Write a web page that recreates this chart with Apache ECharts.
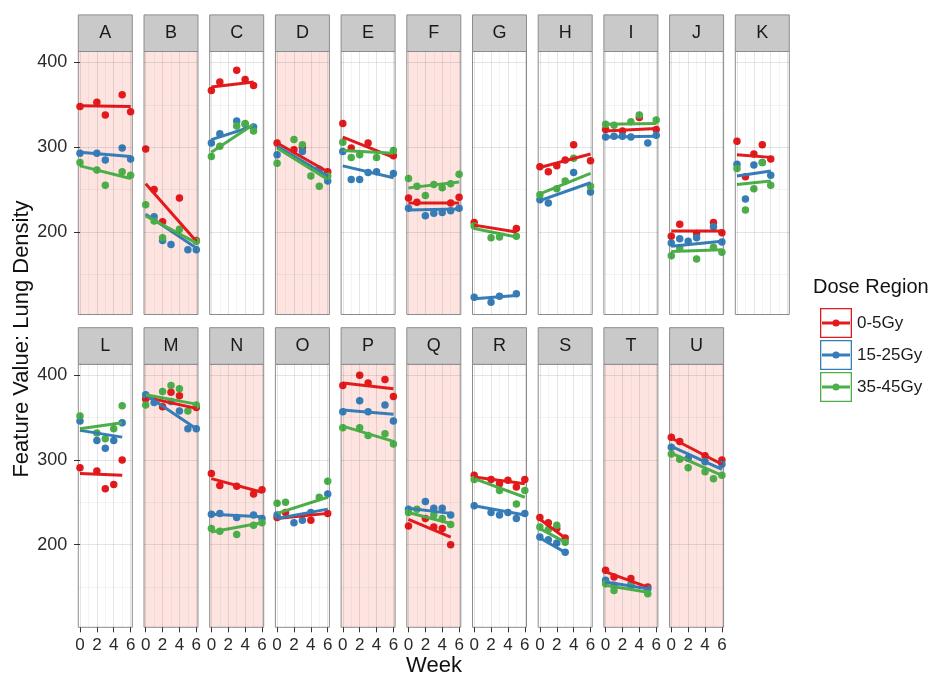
<!DOCTYPE html>
<html>
<head>
<meta charset="utf-8">
<script src="https://cdn.jsdelivr.net/npm/echarts@6/dist/echarts.min.js"></script>
<style>html,body{margin:0;padding:0;background:#fff}#c{width:932px;height:682px}</style>
</head>
<body>
<div id="c"></div>
<script>
// ---------- data ----------
const panelNames = ['A','B','C','D','E','F','G','H','I','J','K','L','M','N','O','P','Q','R','S','T','U'];
const pinkPanels = ['A','B','D','F','M','N','P','Q','T','U'];
const seriesNames = ['0-5Gy','15-25Gy','35-45Gy'];
const seriesColors = ['#E41A1C','#377EB8','#4DAF4A'];
const xTicks = [0,2,4,6];
const yTicks = [200,300,400];
const xGrid = [0,1,2,3,4,5,6];
const yGridMajor = [200,300,400];
const yGridMinor = [150,250,350];

// points [week, value] per panel (A..U)
const pts05 = [
  [[0,348],[2,353],[3,338],[5,362],[6,342]],
  [[0,298],[1,250],[2,212],[4,240],[6,190]],
  [[0,367],[1,377],[3,391],[4,380],[5,373]],
  [[0,305],[2,297],[3,300],[6,271]],
  [[0,328],[1,299],[3,305],[6,290]],
  [[0,240],[1,235],[5,234],[6,241]],
  [[0,211],[5,204]],
  [[0,277],[1,271],[2,278],[3,285],[4,303],[6,284]],
  [[0,321],[2,319],[4,335],[6,321]],
  [[0,195],[1,209],[3,198],[5,211],[6,199]],
  [[0,307],[1,265],[2,292],[3,303],[4,286]],
  [[0,291],[2,287],[3,266],[4,271],[5,300]],
  [[0,372],[2,363],[3,380],[4,376],[6,362]],
  [[0,284],[1,270],[3,269],[5,260],[6,265]],
  [[0,232],[1,238],[4,229],[6,237]],
  [[0,388],[2,400],[3,391],[5,395],[6,375]],
  [[0,222],[2,231],[3,221],[4,219],[5,200]],
  [[0,282],[2,277],[3,272],[4,276],[5,268],[6,277]],
  [[0,232],[1,226],[2,219],[3,208]],
  [[0,170],[1,162],[3,160],[5,150]],
  [[0,327],[1,322],[4,305],[6,300]]
];
const pts1525 = [
  [[0,293],[2,293],[3,285],[5,299],[6,286]],
  [[1,218],[2,190],[3,185],[5,179],[6,179]],
  [[0,305],[1,316],[3,331],[4,327],[5,324]],
  [[0,291],[3,295],[5,274],[6,260]],
  [[0,295],[1,262],[2,262],[3,270],[4,271],[6,269]],
  [[0,228],[2,219],[3,222],[4,223],[5,225],[6,228]],
  [[0,123],[2,117],[3,124],[5,127]],
  [[0,238],[1,234],[4,270],[6,247]],
  [[0,312],[1,313],[2,313],[3,312],[5,305],[6,314]],
  [[0,187],[1,192],[2,189],[3,193],[5,206],[6,188]],
  [[0,280],[1,239],[2,279],[3,282],[4,267]],
  [[0,346],[2,323],[3,314],[4,323],[5,344]],
  [[0,377],[1,368],[3,369],[4,358],[5,337],[6,337]],
  [[0,236],[1,237],[3,232],[5,235],[6,231]],
  [[0,235],[2,226],[3,229],[4,238],[6,260]],
  [[0,357],[2,370],[3,357],[5,365],[6,346]],
  [[0,242],[2,251],[3,243],[4,243],[5,235]],
  [[0,246],[2,238],[3,235],[4,238],[5,231],[6,237]],
  [[0,209],[1,206],[2,202],[3,191]],
  [[0,158],[1,152],[3,153],[5,148]],
  [[0,315],[2,302],[4,298],[6,295]]
];
const pts3545 = [
  [[0,282],[2,273],[3,255],[5,271],[6,267]],
  [[0,232],[1,213],[2,193],[4,203],[6,189]],
  [[0,289],[1,301],[3,325],[4,328],[5,319]],
  [[0,281],[2,309],[3,303],[4,266],[5,254],[6,266]],
  [[0,306],[1,288],[2,291],[4,288],[6,296]],
  [[0,263],[1,254],[2,243],[3,256],[4,252],[5,257],[6,268]],
  [[0,207],[2,193],[3,194],[5,195]],
  [[0,244],[2,251],[3,260],[4,287],[6,254]],
  [[0,327],[1,326],[3,330],[4,338],[6,332]],
  [[0,172],[1,181],[3,168],[5,182],[6,176]],
  [[0,275],[1,226],[2,251],[3,282],[4,255]],
  [[0,352],[2,332],[3,325],[4,337],[5,364]],
  [[0,365],[2,381],[3,388],[4,384],[5,358],[6,365]],
  [[0,219],[1,216],[3,212],[5,223],[6,226]],
  [[0,249],[1,250],[5,256],[6,275]],
  [[0,338],[2,338],[3,329],[5,331],[6,319]],
  [[0,238],[1,242],[3,235],[4,231],[5,224]],
  [[0,277],[3,264],[5,248],[6,264]],
  [[0,221],[1,218],[2,223],[3,203]],
  [[0,154],[1,146],[3,151],[5,142]],
  [[0,307],[1,301],[2,291],[4,286],[5,278],[6,282]]
];
// fitted line endpoints [x0, y0, x1, y1] per panel
const fit05 = [
  [0,349,6,348],[0,257,6,189],[0,371,5,377],[0,305,6,271],[0,312,6,288],[0,234,6,234],[0,208,5,200],
  [0,276,6,292],[0,319,6,322],[0,201,6,201],[0,291,4,288],[0,284,5,282],[0,374,6,361],[0,278,6,262],
  [0,231,6,237],[0,391,6,384],[0,230,5,209],[0,280,6,272],[0,230,3,208],[0,168,5,150],[0,326,6,295]
];
const fit1525 = [
  [0,294,6,289],[0,221,6,181],[0,309,5,325],[0,301,6,266],[0,278,6,264],[0,226,6,227],[0,121,5,125],
  [0,237,6,258],[0,312,6,313],[0,183,6,189],[0,266,4,272],[0,335,5,327],[0,377,6,337],[0,236,6,233],
  [0,231,6,242],[0,359,6,354],[0,243,5,237],[0,246,6,235],[0,208,3,191],[0,156,5,148],[0,316,6,289]
];
const fit3545 = [
  [0,278,6,263],[0,219,6,187],[0,294,5,327],[0,299,6,262],[0,296,6,293],[0,252,6,259],[0,204,5,194],
  [0,245,6,269],[0,327,6,328],[0,177,6,179],[0,256,4,260],[0,337,5,344],[0,377,6,366],[0,215,6,226],
  [0,237,6,256],[0,340,6,322],[0,238,5,225],[0,278,6,256],[0,219,3,203],[0,152,5,144],[0,308,6,282]
];

// ---------- layout ----------
const FONT = "'Liberation Sans', Arial, sans-serif";
const COL0 = 78.3, COLSTEP = 65.7, PW = 54, PH = 263;
const ROW_TOP = [51.5, 364.3], STRIP_H = 36.6, PER_ROW = 11;
const X_MIN = -0.2, X_MAX = 6.2, Y_MIN = 102.5, Y_MAX = 413;

const allPts = [pts05, pts1525, pts3545];
const allFits = [fit05, fit1525, fit3545];

const grids = [], xAxes = [], yAxes = [], series = [], graphics = [];

panelNames.forEach((name, i) => {
  const row = Math.floor(i / PER_ROW), col = i % PER_ROW;
  const left = COL0 + col * COLSTEP, top = ROW_TOP[row];
  const pink = pinkPanels.includes(name);
  grids.push({left, top, width: PW, height: PH, show: true,
    backgroundColor: pink ? '#FDE4E0' : '#FFFFFF', borderColor: '#8C8C8C', borderWidth: 1});
  const showX = row === 1, showY = col === 0;
  xAxes.push({type: 'value', gridIndex: i, min: X_MIN, max: X_MAX,
    axisLine: {show: false}, splitLine: {show: false},
    axisTick: {show: showX, customValues: xTicks, length: 5, lineStyle: {color: '#333'}},
    axisLabel: {show: showX, customValues: xTicks, fontSize: 17, color: '#2a2a2a', fontFamily: FONT, margin: 10}});
  yAxes.push({type: 'value', gridIndex: i, min: Y_MIN, max: Y_MAX,
    axisLine: {show: false}, splitLine: {show: false},
    axisTick: {show: showY, customValues: yTicks, length: 6, lineStyle: {color: '#333'}},
    axisLabel: {show: showY, customValues: yTicks, fontSize: 18, color: '#2a2a2a', fontFamily: FONT, margin: 11}});
  // strip
  graphics.push({type: 'rect', shape: {x: left, y: top - STRIP_H, width: PW, height: STRIP_H},
    style: {fill: '#C9C9C9', stroke: '#8C8C8C', lineWidth: 1}, silent: true});
  graphics.push({type: 'text', x: left + PW / 2, y: top - STRIP_H / 2,
    style: {text: name, font: '18px ' + FONT, fill: '#1a1a1a', textAlign: 'center', textVerticalAlign: 'middle'}, silent: true});
});

// gridlines (background)
panelNames.forEach((name, i) => {
  const major = 'rgba(0,0,0,0.1)', minor = 'rgba(0,0,0,0.045)';
  const ml = [];
  xGrid.forEach(v => ml.push({xAxis: v, lineStyle: {color: (v % 2 === 0) ? major : minor}}));
  yGridMajor.forEach(v => ml.push({yAxis: v, lineStyle: {color: major}}));
  yGridMinor.forEach(v => ml.push({yAxis: v, lineStyle: {color: minor}}));
  series.push({type: 'line', name: 'grid' + i, xAxisIndex: i, yAxisIndex: i, data: [], silent: true, z: 1,
    markLine: {silent: true, symbol: ['none', 'none'], label: {show: false}, animation: false,
      lineStyle: {type: 'solid', width: 1}, emphasis: {disabled: true}, data: ml}});
});

// scatter points
seriesNames.forEach((sn, s) => {
  panelNames.forEach((name, i) => {
    series.push({type: 'scatter', name: sn, xAxisIndex: i, yAxisIndex: i, data: allPts[s][i],
      symbolSize: 7.5, itemStyle: {color: seriesColors[s], opacity: 1}, z: 2, silent: true});
  });
});
// fitted lines
seriesNames.forEach((sn, s) => {
  panelNames.forEach((name, i) => {
    const f = allFits[s][i];
    series.push({type: 'line', name: sn, xAxisIndex: i, yAxisIndex: i,
      data: [[f[0], f[1]], [f[2], f[3]]], showSymbol: false, symbol: 'none',
      lineStyle: {color: seriesColors[s], width: 3}, itemStyle: {color: seriesColors[s]}, z: 3, silent: true});
  });
});

// axis titles & legend title
graphics.push({type: 'text', x: 22, y: 339, rotation: Math.PI / 2,
  style: {text: 'Feature Value: Lung Density', font: '22px ' + FONT, fill: '#111', textAlign: 'center', textVerticalAlign: 'middle'}, silent: true});
graphics.push({type: 'text', x: 434, y: 666,
  style: {text: 'Week', font: '22px ' + FONT, fill: '#111', textAlign: 'center', textVerticalAlign: 'middle'}, silent: true});
graphics.push({type: 'text', x: 813, y: 287,
  style: {text: 'Dose Region', font: '20px ' + FONT, fill: '#111', textAlign: 'left', textVerticalAlign: 'middle'}, silent: true});

const ICON = 'path://M0,0H32V30H0Z M1.3,1.3V28.7H30.7V1.3Z M2,13.6H30V16.4H2Z M12.4,15A3.6,3.6 0 1 1 19.6,15A3.6,3.6 0 1 1 12.4,15Z';

const chart = echarts.init(document.getElementById('c'), null, {renderer: 'canvas'});
chart.setOption({
  animation: false,
  backgroundColor: '#FFFFFF',
  grid: grids,
  xAxis: xAxes,
  yAxis: yAxes,
  legend: {left: 815, top: 303, orient: 'vertical', itemWidth: 32, itemHeight: 30, itemGap: 2,
    selectedMode: false, data: seriesNames.map(n => ({name: n, icon: ICON})),
    textStyle: {fontSize: 17, color: '#1a1a1a', fontFamily: FONT}},
  graphic: graphics,
  series: series
});
</script>
</body>
</html>
